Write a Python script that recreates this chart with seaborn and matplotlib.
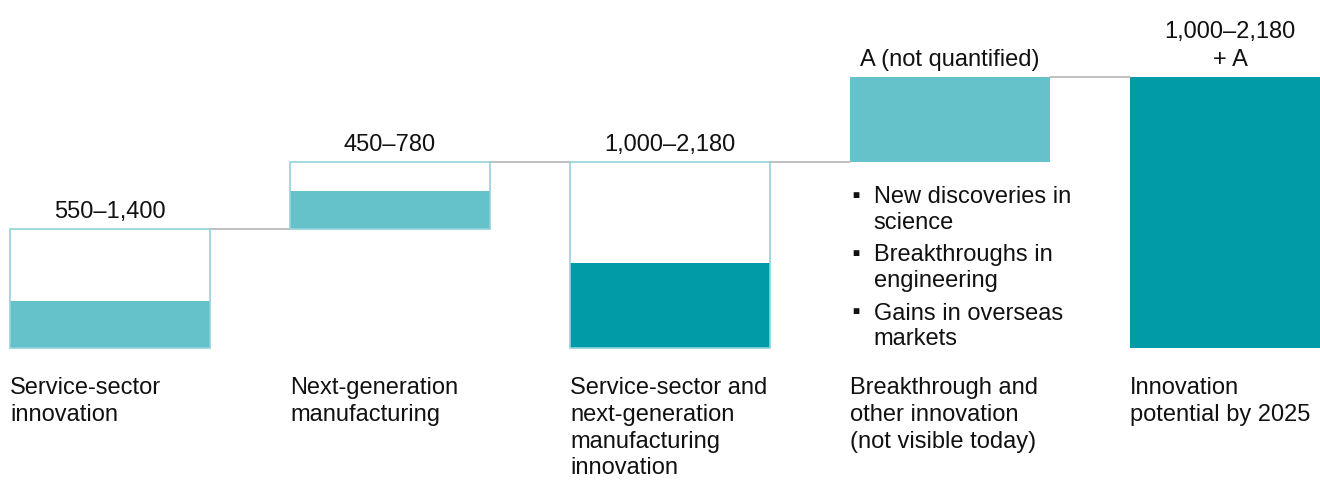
import numpy as np
import pandas as pd
import seaborn as sns
import matplotlib.pyplot as plt

# values in the chart's units (A is not quantified; drawn with a nominal size)
categories = ['Service-sector\ninnovation',
              'Next-generation\nmanufacturing',
              'Service-sector and\nnext-generation\nmanufacturing\ninnovation',
              'Breakthrough and\nother innovation\n(not visible today)',
              'Innovation\npotential by 2025']
low = [550, 450, 1000, 1000, 3180]      # filled part of each bar
high = [1400, 780, 2180, 1000, 3180]    # outlined range of each bar
base = [0, 1400, 0, 2180, 0]            # where each bar starts
value_labels = ['550–1,400', '450–780', '1,000–2,180', 'A (not quantified)', '1,000–2,180\n+ A']
bullets = ['New discoveries in\nscience', 'Breakthroughs in\nengineering', 'Gains in overseas\nmarkets']

light = '#66c2ca'
dark = '#009ba6'
edge = '#8fd4da'
fill_colors = [light, light, dark, light, dark]

sns.set_style('white')
plt.rcParams['font.family'] = ['Liberation Sans', 'DejaVu Sans']
plt.rcParams['font.size'] = 17

fig = plt.figure(figsize=(13.2, 4.84), dpi=100)
ax = fig.add_axes([0, 0, 1, 1])

x = np.arange(len(categories))
w = 0.714

# bars that sit on the baseline go through seaborn
df = pd.DataFrame({'cat': categories, 'val': low, 'base': base, 'color': fill_colors})
grounded = df[df['base'] == 0]
sns.barplot(data=grounded, x='cat', y='val', hue='cat', order=categories,
            palette=dict(zip(grounded['cat'], grounded['color'])),
            width=w, legend=False, saturation=1, linewidth=0, ax=ax)

# floating fills
for i in range(len(categories)):
    if base[i] != 0:
        ax.bar(x[i], low[i], bottom=base[i], width=w, color=fill_colors[i], linewidth=0)

# outlined ranges
for i in range(3):
    ax.bar(x[i], high[i], bottom=base[i], width=w, facecolor='none',
           edgecolor=edge, linewidth=1.2, zorder=3)

# connector lines between bars
tops = [base[i] + high[i] for i in range(len(categories))]
for i in range(len(categories) - 1):
    ax.plot([x[i] + w / 2, x[i + 1] - w / 2], [tops[i], tops[i]],
            color='#b5b5b5', linewidth=1.2, zorder=1)

# value labels above bars
for i in range(len(categories)):
    ax.annotate(value_labels[i], (x[i], tops[i]), xytext=(0, 4.5), textcoords='offset points',
                ha='center', va='bottom', linespacing=1.35, color='#111111')

# category labels below the baseline
for i in range(len(categories)):
    ax.annotate(categories[i], (x[i] - w / 2, 0), xytext=(0, -21), textcoords='offset points',
                ha='left', va='top', linespacing=1.28, color='#111111')

# bullet list under the breakthrough bar
offs = -17
for b in bullets:
    ax.annotate('■', (x[3] - w / 2, base[3]), xytext=(4, offs - 7), textcoords='offset points',
                ha='center', va='center', fontsize=8.5, color='#111111')
    ax.annotate(b, (x[3] - w / 2, base[3]), xytext=(17, offs), textcoords='offset points',
                ha='left', va='top', linespacing=1.22, color='#111111')
    offs -= 42

ax.set_xlim(-110 / 280, 1210 / 280)
ax.set_ylim(-1600, 4090)
ax.axis('off')

plt.savefig('out.png', dpi=100)
